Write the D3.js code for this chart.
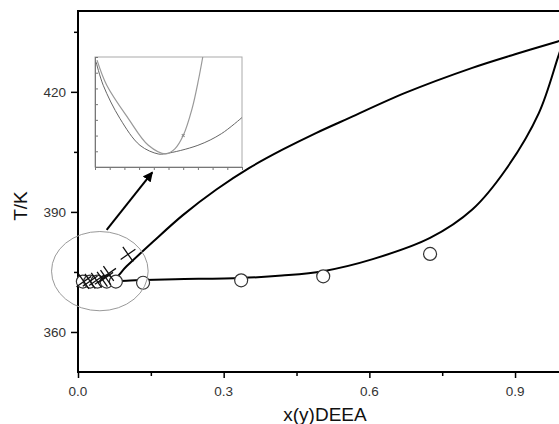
<!DOCTYPE html>
<meta charset="utf-8">
<style>
body { margin: 0; background: #fff; }
svg { display: block; }
</style>
<body>
<script src="https://cdn.jsdelivr.net/npm/d3@7"></script>
<script>

// liquid line (bubble curve): x DEEA, T/K
var bubbleX = [0, 0.03, 0.06, 0.1, 0.137, 0.2, 0.336, 0.42, 0.505, 0.607, 0.725, 0.812, 0.881, 0.949, 0.988, 1.0];
var bubbleT = [373.1, 372.8, 372.7, 372.8, 373.0, 373.2, 373.5, 374.1, 375.2, 378.2, 383.5, 390.6, 400.6, 414.7, 428.5, 433.0];

// vapour line (dew curve): y DEEA, T/K
var dewX = [0, 0.03, 0.068, 0.1, 0.155, 0.216, 0.285, 0.353, 0.422, 0.49, 0.559, 0.675, 0.812, 0.9, 0.988, 1.0];
var dewT = [373.1, 372.8, 372.6, 376.4, 382.6, 389.2, 395.6, 401.0, 405.6, 409.7, 413.5, 419.8, 426.0, 429.4, 432.6, 433.0];

// experimental liquid points (circles)
var liqX = [0.01, 0.025, 0.04, 0.059, 0.078, 0.134, 0.336, 0.505, 0.725];
var liqT = [372.6, 372.6, 372.6, 372.6, 372.6, 372.3, 372.9, 373.9, 379.5];

// experimental vapour points (crosses)
var vapX = [0.012, 0.025, 0.038, 0.05, 0.057, 0.063, 0.103];
var vapT = [372.6, 372.7, 372.9, 373.2, 373.6, 374.6, 379.4];

var xTicks = [0, 0.3, 0.6, 0.9];
var xMinor = [0.15, 0.45, 0.75];
var yTicks = [360, 390, 420];
var yMinor = [375, 405, 435];

// inset (zoom of the azeotrope region, unlabeled units)
var insetAX = [0.14, 0.8, 2.27, 3.63, 4.83, 5.45, 6.0, 6.6, 7.05, 7.33];
var insetAY = [6.8, 5.2, 3.08, 1.38, 0.83, 1.17, 2.0, 3.7, 5.6, 7.0];
var insetBX = [0.07, 0.56, 1.7, 3.06, 4.3, 4.8, 7.0, 8.6, 10];
var insetBY = [6.7, 5.2, 3.08, 1.38, 0.83, 0.85, 1.38, 2.12, 3.15];

var width = 559, height = 424;
var font = "'Liberation Sans', Arial, sans-serif";
var svg = d3.select("body").append("svg")
    .attr("width", width)
    .attr("height", height)
    .style("font-family", font);

var x = d3.scaleLinear().domain([0, 1]).range([78, 563.6]);
var y = d3.scaleLinear().domain([350, 440.2]).range([372, 11]);

// frame
svg.append("rect")
    .attr("x", x(0)).attr("y", y(440.2))
    .attr("width", x(1) - x(0)).attr("height", y(350) - y(440.2))
    .attr("fill", "none").attr("stroke", "#000").attr("stroke-width", 2);

// axes (tick marks from d3, labels drawn below)
svg.append("g")
    .attr("transform", "translate(0," + y(350) + ")")
    .call(d3.axisBottom(x).tickValues(xTicks).tickFormat("").tickSize(6))
    .select(".domain").remove();
svg.append("g")
    .attr("transform", "translate(0," + y(350) + ")")
    .call(d3.axisBottom(x).tickValues(xMinor).tickFormat("").tickSize(4))
    .select(".domain").remove();
svg.append("g")
    .attr("transform", "translate(" + x(0) + ",0)")
    .call(d3.axisLeft(y).tickValues(yTicks).tickFormat("").tickSize(7))
    .select(".domain").remove();
svg.append("g")
    .attr("transform", "translate(" + x(0) + ",0)")
    .call(d3.axisLeft(y).tickValues(yMinor).tickFormat("").tickSize(4))
    .select(".domain").remove();
svg.selectAll(".tick line").attr("stroke", "#000").attr("stroke-width", 1.5);

svg.selectAll(".xlab")
    .data(xTicks)
    .enter().append("text")
    .attr("class", "xlab")
    .attr("x", function(d) { return x(d); })
    .attr("y", y(350) + 24)
    .attr("text-anchor", "middle")
    .attr("font-size", "13.5px")
    .attr("fill", "#333")
    .text(d3.format(".1f"));
svg.selectAll(".ylab")
    .data(yTicks)
    .enter().append("text")
    .attr("class", "ylab")
    .attr("x", x(0) - 12)
    .attr("y", function(d) { return y(d) + 5; })
    .attr("text-anchor", "end")
    .attr("font-size", "13.5px")
    .attr("fill", "#333")
    .text(function(d) { return d; });

// axis titles
svg.append("text")
    .attr("transform", "translate(27,206) rotate(-90)")
    .attr("text-anchor", "middle")
    .attr("font-size", "19px").attr("fill", "#111")
    .text("T/K");
svg.append("text")
    .attr("x", 325).attr("y", 421)
    .attr("text-anchor", "middle")
    .attr("font-size", "19px").attr("fill", "#111")
    .text("x(y)DEEA");

// curves
var line = d3.line()
    .x(function(d) { return x(d[0]); })
    .y(function(d) { return y(d[1]); })
    .curve(d3.curveCatmullRom.alpha(0.5));

svg.append("path")
    .datum(d3.zip(bubbleX, bubbleT))
    .attr("d", line)
    .attr("fill", "none").attr("stroke", "#000").attr("stroke-width", 2);
svg.append("path")
    .datum(d3.zip(dewX, dewT))
    .attr("d", line)
    .attr("fill", "none").attr("stroke", "#000").attr("stroke-width", 2);

// circles
svg.selectAll(".liq")
    .data(d3.zip(liqX, liqT))
    .enter().append("circle")
    .attr("class", "liq")
    .attr("cx", function(d) { return x(d[0]); })
    .attr("cy", function(d) { return y(d[1]); })
    .attr("r", 6.5)
    .attr("fill", "#fff").attr("stroke", "#333").attr("stroke-width", 1.2);

// crosses
svg.selectAll(".vap")
    .data(d3.zip(vapX, vapT))
    .enter().append("path")
    .attr("class", "vap")
    .attr("transform", function(d) { return "translate(" + x(d[0]) + "," + y(d[1]) + ") rotate(-35)"; })
    .attr("d", "M-9,0H9M0,-9V9")
    .attr("fill", "none").attr("stroke", "#111").attr("stroke-width", 1.3);

// ellipse around the azeotrope region
svg.append("ellipse")
    .attr("cx", x(0.045)).attr("cy", y(375.2))
    .attr("rx", x(0.045 + 0.0995) - x(0.045))
    .attr("ry", y(375.2) - y(385.1))
    .attr("fill", "none").attr("stroke", "#999").attr("stroke-width", 1);

// arrow
svg.append("defs").append("marker")
    .attr("id", "head")
    .attr("viewBox", "0 0 10 10")
    .attr("refX", 9).attr("refY", 5)
    .attr("markerWidth", 5).attr("markerHeight", 5)
    .attr("orient", "auto")
  .append("path")
    .attr("d", "M0,0L10,5L0,10z")
    .attr("fill", "#000");
svg.append("line")
    .attr("x1", x(0.059)).attr("y1", y(385.5))
    .attr("x2", x(0.153)).attr("y2", y(399.9))
    .attr("stroke", "#000").attr("stroke-width", 2)
    .attr("marker-end", "url(#head)");

// inset
var ix = d3.scaleLinear().domain([0, 10]).range([95, 242]);
var iy = d3.scaleLinear().domain([0, 7]).range([167, 57]);

var inset = svg.append("g");
inset.append("rect")
    .attr("x", ix(0)).attr("y", iy(7))
    .attr("width", ix(10) - ix(0)).attr("height", iy(0) - iy(7))
    .attr("fill", "#fff").attr("stroke", "#aaa").attr("stroke-width", 1);
inset.append("g")
    .attr("transform", "translate(0," + iy(0) + ")")
    .call(d3.axisBottom(ix).ticks(10).tickFormat("").tickSize(3))
    .call(function(g) { g.selectAll("line, path").attr("stroke", "#777"); });
inset.append("g")
    .attr("transform", "translate(" + ix(0) + ",0)")
    .call(d3.axisRight(iy).ticks(7).tickFormat("").tickSize(3))
    .call(function(g) { g.selectAll("line, path").attr("stroke", "#777"); });

var iline = d3.line()
    .x(function(d) { return ix(d[0]); })
    .y(function(d) { return iy(d[1]); })
    .curve(d3.curveCatmullRom);

inset.append("path")
    .datum(d3.zip(insetBX, insetBY))
    .attr("d", iline)
    .attr("fill", "none").attr("stroke", "#666").attr("stroke-width", 1);
inset.append("path")
    .datum(d3.zip(insetAX, insetAY))
    .attr("d", iline)
    .attr("fill", "none").attr("stroke", "#999").attr("stroke-width", 1.2);
inset.append("path")
    .attr("transform", "translate(" + ix(6.0) + "," + iy(2.0) + ") rotate(45)")
    .attr("d", "M-2,0H2M0,-2V2")
    .attr("stroke", "#888").attr("stroke-width", 1);

</script>
</body>
